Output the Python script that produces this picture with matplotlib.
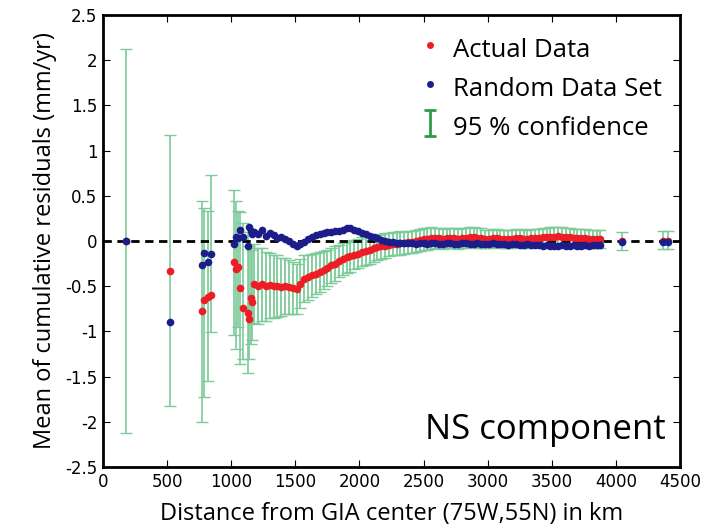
import numpy as np
import matplotlib
matplotlib.use("Agg")
import matplotlib.pyplot as plt

plt.rcParams['axes.unicode_minus'] = False

# isolated stations (x km, actual, random, lower, upper of 95% band)
sparse_x = [180, 520, 775, 790, 815, 840, 1025, 1040, 1055, 1072, 1090, 1127, 1140, 1153, 1165, 4050, 4370, 4410]
sparse_red = [0.0, -0.33, -0.77, -0.65, -0.62, -0.60, -0.23, -0.31, -0.29, -0.52, -0.74, -0.80, -0.86, -0.63, -0.68, 0.0, 0.0, 0.0]
sparse_blue = [0.0, -0.90, -0.26, -0.13, -0.23, -0.14, -0.03, 0.05, 0.03, 0.12, 0.04, -0.06, 0.15, 0.11, 0.08, -0.01, -0.01, -0.01]
sparse_lo = [-2.12, -1.83, -2.00, -1.72, -1.55, -1.01, -1.04, -1.19, -0.95, -1.36, -1.30, -1.46, -1.30, -1.14, -1.10, -0.10, -0.09, -0.09]
sparse_hi = [2.12, 1.17, 0.44, 0.36, 0.33, 0.73, 0.57, 0.44, 0.33, 0.32, 0.20, 0.10, -0.05, -0.08, -0.10, 0.10, 0.11, 0.11]

# dense part of the profile
dense_x = [1180, 1210, 1240, 1270, 1300, 1330, 1360, 1390, 1420, 1450,
           1480, 1510, 1540, 1570, 1600, 1630, 1660, 1690, 1720, 1750,
           1780, 1810, 1840, 1870, 1900, 1930, 1960, 1990, 2020, 2050,
           2080, 2110, 2140, 2170, 2200, 2230, 2260, 2290, 2320, 2350,
           2380, 2410, 2440, 2470, 2500, 2530, 2560, 2590, 2620, 2650,
           2680, 2710, 2740, 2770, 2800, 2830, 2860, 2890, 2920, 2950,
           2980, 3010, 3040, 3070, 3100, 3130, 3160, 3190, 3220, 3250,
           3280, 3310, 3340, 3370, 3400, 3430, 3460, 3490, 3520, 3550,
           3580, 3610, 3640, 3670, 3700, 3730, 3760, 3790, 3820, 3850, 3880]
dense_red = [-0.47, -0.50, -0.48, -0.50, -0.49, -0.50, -0.50, -0.51, -0.50, -0.51,
             -0.52, -0.53, -0.47, -0.42, -0.40, -0.38, -0.36, -0.34, -0.32, -0.30,
             -0.27, -0.25, -0.22, -0.20, -0.18, -0.17, -0.15, -0.14, -0.12, -0.11,
             -0.10, -0.08, -0.07, -0.06, -0.05, -0.04, -0.03, -0.03, -0.02, -0.02,
             -0.01, -0.01, 0.00, 0.01, 0.02, 0.02, 0.03, 0.03, 0.03, 0.02,
             0.03, 0.03, 0.03, 0.02, 0.03, 0.03, 0.04, 0.04, 0.03, 0.03,
             0.02, 0.02, 0.03, 0.03, 0.02, 0.02, 0.02, 0.02, 0.03, 0.03,
             0.02, 0.02, 0.03, 0.03, 0.03, 0.04, 0.04, 0.05, 0.05, 0.06,
             0.05, 0.04, 0.04, 0.03, 0.03, 0.03, 0.03, 0.02, 0.02, 0.02, 0.02]
dense_blue = [0.10, 0.08, 0.12, 0.06, 0.09, 0.07, 0.03, 0.04, 0.02, 0.00,
              -0.03, -0.06, -0.03, -0.01, 0.02, 0.05, 0.07, 0.08, 0.09, 0.10,
              0.10, 0.11, 0.11, 0.12, 0.14, 0.14, 0.12, 0.11, 0.09, 0.08,
              0.06, 0.04, 0.03, 0.01, 0.00, -0.01, -0.01, -0.02, -0.02, -0.02,
              -0.02, -0.02, -0.03, -0.02, -0.02, -0.03, -0.02, -0.02, -0.03, -0.03,
              -0.02, -0.02, -0.03, -0.03, -0.02, -0.02, -0.03, -0.03, -0.02, -0.03,
              -0.03, -0.03, -0.02, -0.03, -0.03, -0.03, -0.04, -0.03, -0.03, -0.04,
              -0.04, -0.03, -0.04, -0.04, -0.04, -0.05, -0.04, -0.05, -0.05, -0.05,
              -0.04, -0.05, -0.05, -0.04, -0.05, -0.05, -0.04, -0.05, -0.04, -0.04, -0.04]
dense_err = [0.44, 0.42, 0.40, 0.38, 0.36, 0.35, 0.34, 0.32, 0.31, 0.30,
             0.29, 0.28, 0.27, 0.26, 0.25, 0.24, 0.23, 0.22, 0.21, 0.20,
             0.19, 0.19, 0.18, 0.18, 0.17, 0.17, 0.16, 0.16, 0.16, 0.15,
             0.15, 0.15, 0.14, 0.14, 0.14, 0.13, 0.13, 0.13, 0.13, 0.12,
             0.12, 0.12, 0.12, 0.12, 0.12, 0.12, 0.12, 0.11, 0.11, 0.11,
             0.11, 0.11, 0.11, 0.11, 0.11, 0.11, 0.11, 0.11, 0.11, 0.11,
             0.10, 0.10, 0.10, 0.10, 0.10, 0.10, 0.10, 0.10, 0.10, 0.10,
             0.10, 0.10, 0.10, 0.10, 0.10, 0.10, 0.10, 0.10, 0.10, 0.10,
             0.10, 0.10, 0.10, 0.10, 0.10, 0.10, 0.10, 0.10, 0.10, 0.10, 0.10]

x_ticks = [0, 500, 1000, 1500, 2000, 2500, 3000, 3500, 4000, 4500]
y_ticks = [-2.5, -2, -1.5, -1, -0.5, 0, 0.5, 1, 1.5, 2, 2.5]

red = '#ee1c24'
blue = '#1c1c8a'
green = '#7ccb98'
label_font = 'Open Sans'
tick_font = ['Liberation Sans Narrow', 'DejaVu Sans']

fig = plt.figure(figsize=(7.07, 5.28), dpi=100)
ax = fig.add_axes([0.1457, 0.1155, 0.8161, 0.856])

ax.axhline(0, color='black', ls=(0, (3, 2)), lw=2, zorder=2)

sx = np.array(sparse_x)
sr = np.array(sparse_red)
ax.errorbar(sx, sr, yerr=[sr - np.array(sparse_lo), np.array(sparse_hi) - sr],
            fmt='none', ecolor=green, elinewidth=1.2, capsize=4, capthick=1, zorder=1)
dr = np.array(dense_red)
ax.errorbar(dense_x, dr, yerr=dense_err, fmt='none', ecolor=green,
            elinewidth=1.3, capsize=4, capthick=1, zorder=1)

ax.plot(sparse_x + dense_x, sparse_red + dense_red, 'o', color=red, ms=5.5, mew=0, zorder=3)
ax.plot(sparse_x + dense_x, sparse_blue + dense_blue, 'o', color=blue, ms=5.5, mew=0, zorder=4)

# legend proxies
h1, = ax.plot([], [], 'o', color=red, ms=5, mew=0)
h2, = ax.plot([], [], 'o', color=blue, ms=5, mew=0)
h3 = ax.errorbar([np.nan], [np.nan], yerr=[[1]], fmt='none', ecolor='#2f9a4c',
                 elinewidth=2, capsize=4, capthick=2)
leg = ax.legend([h1, h2, h3], ['Actual Data', 'Random Data Set', '95 % confidence'],
                loc='upper right', frameon=False, handlelength=0.8, handleheight=1.5,
                handletextpad=0.5, labelspacing=0.3, borderaxespad=0.3,
                prop={'family': label_font, 'size': 18.5})

ax.text(0.975, 0.045, 'NS component', transform=ax.transAxes, ha='right', va='bottom',
        fontsize=25, family=label_font)

ax.set_xlim(0, 4500)
ax.set_ylim(-2.5, 2.5)
ax.set_xticks(x_ticks)
ax.set_yticks(y_ticks)
ax.set_xticklabels([str(v) for v in x_ticks], family=tick_font, fontsize=12)
ax.set_yticklabels(['%g' % v for v in y_ticks], family=tick_font, fontsize=12)
ax.tick_params(direction='in', top=True, right=True, length=5, width=0.8, pad=4)
for s in ax.spines.values():
    s.set_linewidth(2)

ax.set_xlabel('Distance from GIA center (75W,55N) in km', family=label_font, fontsize=17, labelpad=8)
ax.set_ylabel('Mean of cumulative residuals (mm/yr)', family=label_font, fontsize=17, labelpad=6)

fig.savefig('out.png', dpi=100)
